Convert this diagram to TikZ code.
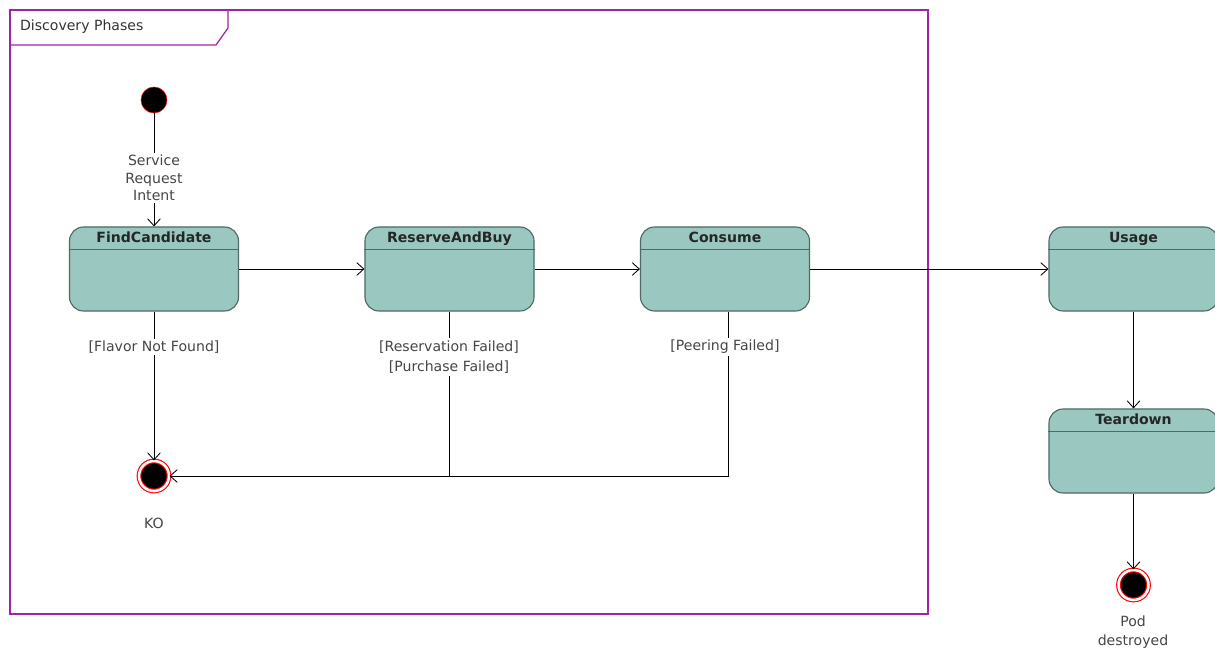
\documentclass[tikz,border=0pt]{standalone}
\usepackage{fontspec}
\setmainfont{DejaVu Sans}
\usetikzlibrary{arrows.meta,positioning,shapes}

\definecolor{phasefill}{RGB}{154,199,191}
\definecolor{phaseline}{RGB}{78,106,98}
\definecolor{framecol}{RGB}{160,36,168}
\definecolor{guardcol}{RGB}{70,70,70}

\begin{document}
\begin{tikzpicture}[x=0.025cm,y=-0.025cm,>={Straight Barb[length=5pt,width=9pt]},
                    semithick,font=\fontsize{10}{12.4}\selectfont]
  \tikzset{
    phase/.style={draw=phaseline,line width=0.8pt,fill=phasefill,rounded corners=10pt,
      minimum width=4.225cm,minimum height=2.1cm,inner sep=0pt},
    title/.style={anchor=base,yshift=-0.4cm,font=\fontsize{10}{12}\bfseries,text=black!85},
    guard/.style={fill=white,text=guardcol,align=center,inner sep=1.5pt},
    start/.style={circle,fill=black,draw=red,thin,minimum size=0.65cm,inner sep=0pt},
    finish/.style={circle,fill=black,draw=red,line width=0.8pt,double=white,double distance=1.8pt,
      minimum size=0.75cm,inner sep=0pt}
  }
  \useasboundingbox (0,0) rectangle (1215,648);

  % frame
  \draw[framecol,line width=0.9pt] (10,10) rectangle (928,614);
  \draw[framecol,line width=0.9pt] (10,45) -- (216,45) -- (228,28) -- (228,10);
  \node[anchor=west,text=black!80] (fname) at (15,27) {Discovery Phases};

  % states
  \node[start]  (init) at (154,100) {};
  \node[phase,label={[title]north:FindCandidate}] (fc) at (154,269) {};
  \node[phase,label={[title]north:ReserveAndBuy}] (rb) at (449.5,269) {};
  \node[phase,label={[title]north:Consume}]       (cs) at (725,269) {};
  \node[phase,label={[title]north:Usage}]         (us) at (1133.5,269) {};
  \node[phase,label={[title]north:Teardown}]      (td) at (1133.5,451) {};
  \node[finish] (ko)  at (154,476) {};
  \node[finish] (pod) at (1133.5,585) {};

  \foreach \s in {fc,rb,cs,us,td}
    \draw[phaseline,line width=0.8pt] ([yshift=-0.575cm]\s.north west) -- ([yshift=-0.575cm]\s.north east);

  % transitions
  \draw[->] (init) -- (fc);
  \draw[->] (fc) -- (rb);
  \draw[->] (rb) -- (cs);
  \draw[->] (cs) -- (us);
  \draw[->] (us) -- (td);
  \draw[->] (td) -- (pod);
  \draw[->] (fc) -- (ko);
  \draw[->] (rb.south) -- (rb.south |- ko) -- (ko);
  \draw ([xshift=0.075cm]cs.south) |- (rb.south |- ko);

  % guards
  \node[guard] (intent)  at (154,178) {Service\\Request\\Intent};
  \node[guard] (flavor)  at (154,347) {[Flavor Not Found]};
  \node[guard] (reserve) at (449,357) {[Reservation Failed]\\[2pt][Purchase Failed]};
  \node[guard] (peering) at (725,347) {[Peering Failed]};
  \node[text=guardcol] (kolbl) at (154,523) {KO};
  \node[text=guardcol,align=center] (podlbl) at (1133,632) {Pod\\[1pt]destroyed};
\end{tikzpicture}
\end{document}
